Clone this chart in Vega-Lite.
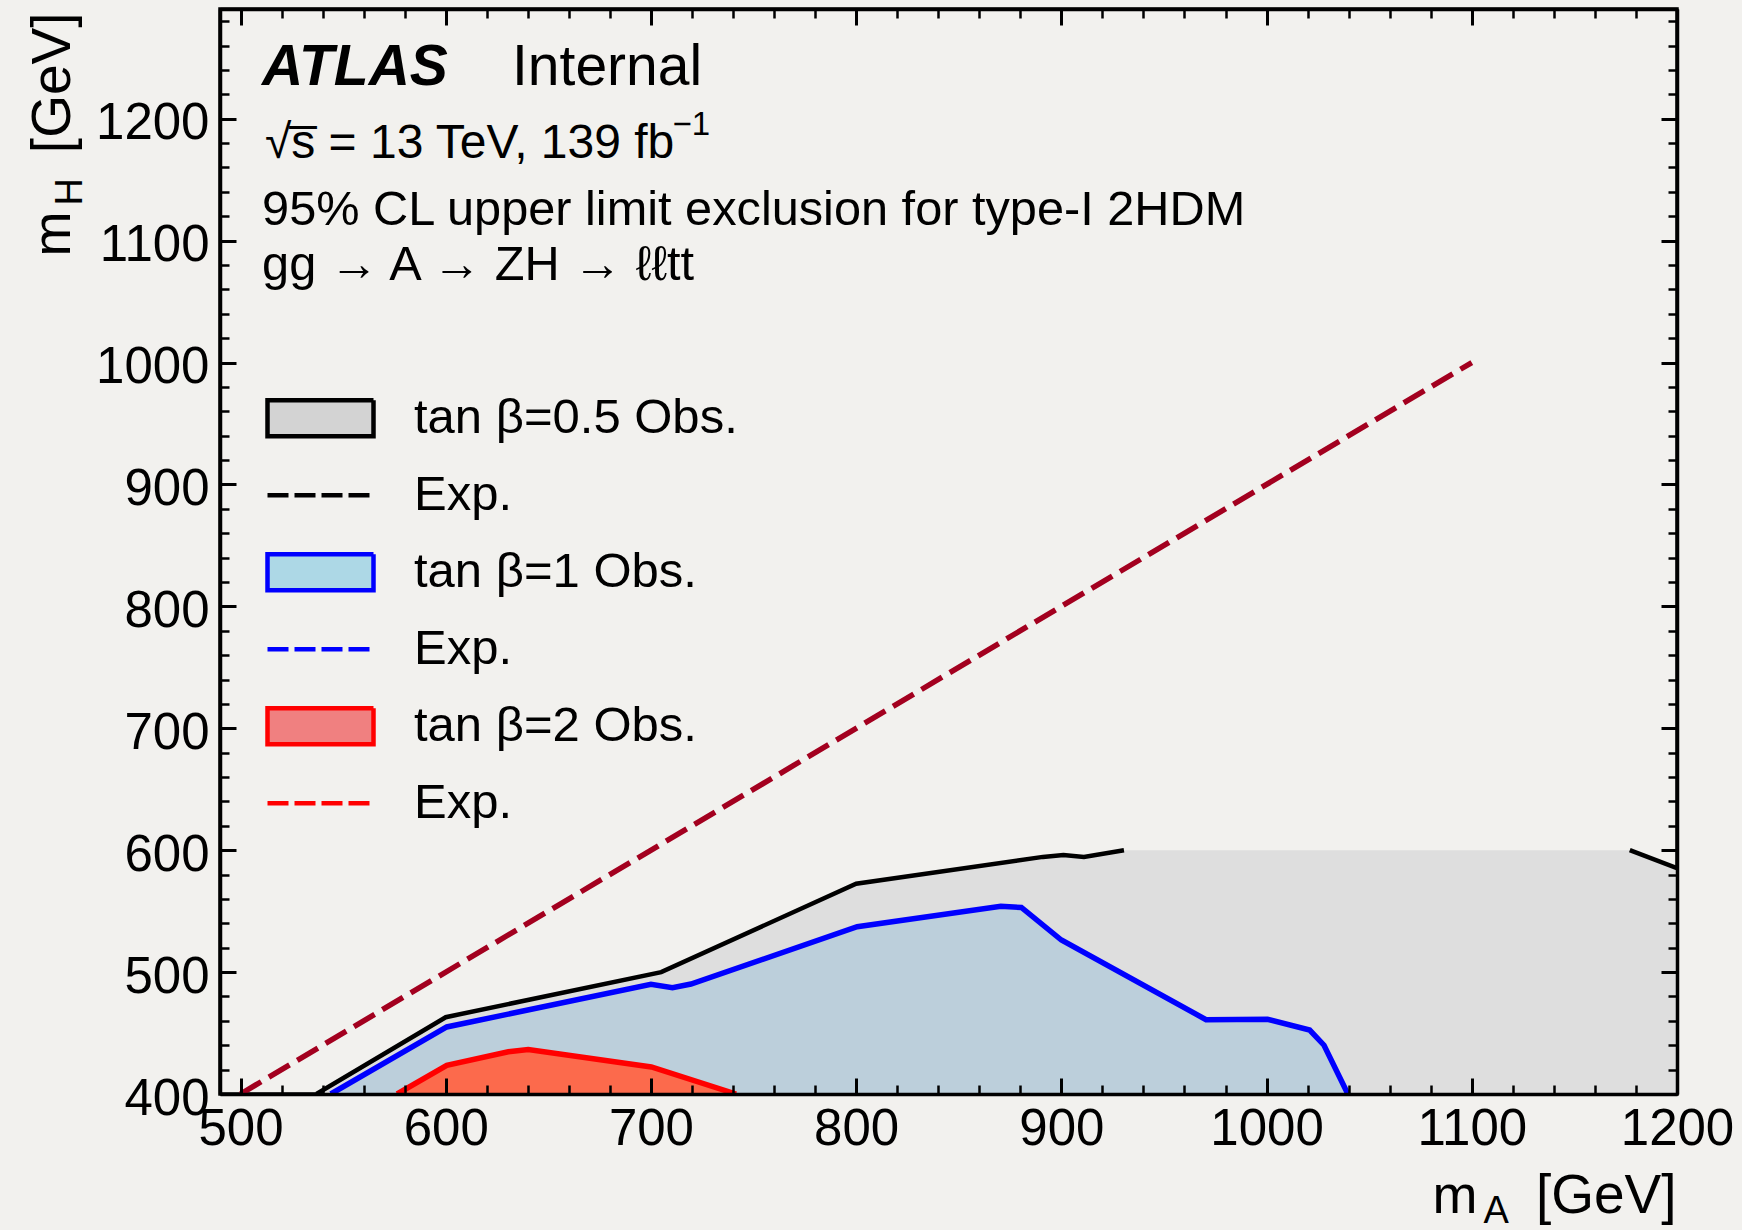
{
  "$schema": "https://vega.github.io/schema/vega-lite/v6.json",
  "width": 1457,
  "height": 1085,
  "autosize": {"type": "none"},
  "padding": {"left": 220, "top": 9, "right": 65, "bottom": 136},
  "background": "#f2f1ee",
  "config": {
    "view": {"fill": "white", "stroke": "black", "strokeWidth": 3.5},
    "axis": {
      "labelFont": "Liberation Sans",
      "titleFont": "Liberation Sans",
      "labelColor": "black",
      "titleColor": "black",
      "tickColor": "black",
      "domainColor": "black",
      "grid": false,
      "labelFlush": false,
      "labelOverlap": false,
      "labelBound": false,
      "titleFontWeight": "normal"
    }
  },
  "datasets": {
    "tb05": [
      {"mA": 537, "mH": 400, "seg": "a"},
      {"mA": 600, "mH": 463, "seg": "a"},
      {"mA": 705, "mH": 500, "seg": "a"},
      {"mA": 800, "mH": 572.5, "seg": "a"},
      {"mA": 891, "mH": 594.5, "seg": "a"},
      {"mA": 901, "mH": 596, "seg": "a"},
      {"mA": 911, "mH": 594.5, "seg": "a"},
      {"mA": 930.5, "mH": 600, "seg": "a"},
      {"mA": 1177, "mH": 600, "seg": "b"},
      {"mA": 1200, "mH": 585.2, "seg": "b"}
    ],
    "tb1": [
      {"mA": 544, "mH": 400},
      {"mA": 600.5, "mH": 455},
      {"mA": 700, "mH": 490},
      {"mA": 710.5, "mH": 487.2},
      {"mA": 719.5, "mH": 490.2},
      {"mA": 800.5, "mH": 537.2},
      {"mA": 870.5, "mH": 554},
      {"mA": 880.5, "mH": 553},
      {"mA": 900, "mH": 526.3},
      {"mA": 970.5, "mH": 461},
      {"mA": 1000.5, "mH": 461.3},
      {"mA": 1021, "mH": 452.5},
      {"mA": 1028, "mH": 440},
      {"mA": 1039.6, "mH": 400}
    ],
    "tb2": [
      {"mA": 576.3, "mH": 400},
      {"mA": 600.5, "mH": 423.5},
      {"mA": 630.5, "mH": 434.7},
      {"mA": 640.2, "mH": 436.4},
      {"mA": 700.2, "mH": 422.2},
      {"mA": 741.5, "mH": 400}
    ],
    "kin": [
      {"mA": 500, "mH": 400},
      {"mA": 1100, "mH": 1000}
    ],
    "legend": [
      {"series": "tanβ=0.5 Obs."},
      {"series": "tanβ=0.5 Exp."},
      {"series": "tanβ=1 Obs."},
      {"series": "tanβ=1 Exp."},
      {"series": "tanβ=2 Obs."},
      {"series": "tanβ=2 Exp."}
    ],
    "notes": [
      {"key": "atlas", "label": "ATLAS"},
      {"key": "internal", "label": "Internal"},
      {"key": "sqrts", "label": "√s̅ = 13 TeV, 139 fb"},
      {"key": "sup", "label": "−1"},
      {"key": "cl", "label": "95% CL upper limit exclusion for type-I 2HDM"},
      {"key": "proc", "label": "gg → A → ZH → ℓℓtt"}
    ]
  },
  "resolve": {"axis": {"x": "independent", "y": "independent"}},
  "layer": [
    {
      "data": {"name": "tb05"},
      "mark": {"type": "area", "color": "#dedede", "clip": true},
      "encoding": {
        "x": {"field": "mA", "type": "quantitative", "scale": {"domain": [490, 1200], "nice": false, "zero": false},
          "axis": {"orient": "bottom", "zindex": 1, "format": "d", "values": [500, 600, 700, 800, 900, 1000, 1100, 1200], "tickSize": -16, "tickWidth": 3, "labelPadding": 26, "labelFontSize": 51, "domain": true, "domainWidth": 3.5,
            "title": "m", "titleX": 1212, "titleY": 118, "titleAlign": "left", "titleBaseline": "alphabetic", "titleFontSize": 54}},
        "y": {"field": "mH", "type": "quantitative", "scale": {"domain": [400, 1290], "nice": false, "zero": false},
          "axis": {"orient": "left", "zindex": 1, "format": "d", "values": [400, 500, 600, 700, 800, 900, 1000, 1100, 1200], "tickSize": -16, "tickWidth": 3, "labelPadding": 27, "labelOffset": 5, "labelFontSize": 51, "domain": true, "domainWidth": 3.5,
            "title": "m", "titleX": -151, "titleY": 247, "titleAngle": 270, "titleAlign": "left", "titleBaseline": "alphabetic", "titleFontSize": 54}},
        "y2": {"datum": 400}
      }
    },
    {
      "data": {"name": "tb1"},
      "mark": {"type": "area", "color": "#bccfdb", "clip": true},
      "encoding": {
        "x": {"field": "mA", "type": "quantitative", "scale": {"domain": [490, 1200], "nice": false, "zero": false},
          "axis": {"orient": "bottom", "zindex": 1, "values": [520, 540, 560, 580, 620, 640, 660, 680, 720, 740, 760, 780, 820, 840, 860, 880, 920, 940, 960, 980, 1020, 1040, 1060, 1080, 1120, 1140, 1160, 1180], "tickSize": -9, "tickWidth": 2.5, "labels": false, "domain": false,
            "title": "A", "titleX": 1263, "titleY": 128, "titleAlign": "left", "titleBaseline": "alphabetic", "titleFontSize": 38}},
        "y": {"field": "mH", "type": "quantitative", "scale": {"domain": [400, 1290], "nice": false, "zero": false},
          "axis": {"orient": "left", "zindex": 1, "values": [420, 440, 460, 480, 520, 540, 560, 580, 620, 640, 660, 680, 720, 740, 760, 780, 820, 840, 860, 880, 920, 940, 960, 980, 1020, 1040, 1060, 1080, 1120, 1140, 1160, 1180, 1220, 1240, 1260, 1280], "tickSize": -9, "tickWidth": 2.5, "labels": false, "domain": false,
            "title": "H", "titleX": -139, "titleY": 196, "titleAngle": 270, "titleAlign": "left", "titleBaseline": "alphabetic", "titleFontSize": 38}},
        "y2": {"datum": 400}
      }
    },
    {
      "data": {"name": "tb2"},
      "mark": {"type": "area", "color": "#fc6a4c", "clip": true},
      "encoding": {
        "x": {"field": "mA", "type": "quantitative", "scale": {"domain": [490, 1200], "nice": false, "zero": false},
          "axis": {"orient": "top", "zindex": 1, "values": [500, 600, 700, 800, 900, 1000, 1100, 1200], "tickSize": -16, "tickWidth": 3, "labels": false, "domain": true, "domainWidth": 3.5,
            "title": "[GeV]", "titleX": 1456, "titleY": 1203, "titleAlign": "right", "titleBaseline": "alphabetic", "titleFontSize": 55}},
        "y": {"field": "mH", "type": "quantitative", "scale": {"domain": [400, 1290], "nice": false, "zero": false},
          "axis": {"orient": "right", "zindex": 1, "values": [400, 500, 600, 700, 800, 900, 1000, 1100, 1200], "tickSize": -16, "tickWidth": 3, "labels": false, "domain": true, "domainWidth": 3.5,
            "title": "[GeV]", "titleX": -1608, "titleY": 3, "titleAngle": 270, "titleAlign": "right", "titleBaseline": "alphabetic", "titleFontSize": 55}},
        "y2": {"datum": 400}
      }
    },
    {
      "data": {"name": "tb05"},
      "mark": {"type": "line", "color": "black", "strokeWidth": 4.5, "clip": true},
      "encoding": {
        "x": {"field": "mA", "type": "quantitative", "scale": {"domain": [490, 1200], "nice": false, "zero": false},
          "axis": {"orient": "top", "zindex": 1, "values": [520, 540, 560, 580, 620, 640, 660, 680, 720, 740, 760, 780, 820, 840, 860, 880, 920, 940, 960, 980, 1020, 1040, 1060, 1080, 1120, 1140, 1160, 1180], "tickSize": -9, "tickWidth": 2.5, "labels": false, "domain": false, "title": null}},
        "y": {"field": "mH", "type": "quantitative", "scale": {"domain": [400, 1290], "nice": false, "zero": false},
          "axis": {"orient": "right", "zindex": 1, "values": [420, 440, 460, 480, 520, 540, 560, 580, 620, 640, 660, 680, 720, 740, 760, 780, 820, 840, 860, 880, 920, 940, 960, 980, 1020, 1040, 1060, 1080, 1120, 1140, 1160, 1180, 1220, 1240, 1260, 1280], "tickSize": -9, "tickWidth": 2.5, "labels": false, "domain": false, "title": null}},
        "detail": {"field": "seg"}
      }
    },
    {
      "data": {"name": "tb1"},
      "mark": {"type": "line", "color": "#0000ff", "strokeWidth": 5.5, "clip": true},
      "encoding": {
        "x": {"field": "mA", "type": "quantitative", "axis": null},
        "y": {"field": "mH", "type": "quantitative", "axis": null}
      }
    },
    {
      "data": {"name": "tb2"},
      "mark": {"type": "line", "color": "#ff0000", "strokeWidth": 5.5, "clip": true},
      "encoding": {
        "x": {"field": "mA", "type": "quantitative", "axis": null},
        "y": {"field": "mH", "type": "quantitative", "axis": null}
      }
    },
    {
      "data": {"name": "kin"},
      "mark": {"type": "line", "color": "#a3001f", "strokeWidth": 5.5, "strokeDash": [24, 9], "clip": true},
      "encoding": {
        "x": {"field": "mA", "type": "quantitative", "axis": null},
        "y": {"field": "mH", "type": "quantitative", "axis": null}
      }
    },
    {
      "data": {"name": "legend"},
      "transform": [{"filter": "false"}],
      "mark": {"type": "point", "filled": true, "opacity": 1, "strokeWidth": 4.5},
      "encoding": {
        "fill": {"field": "series", "type": "nominal",
          "scale": {"domain": ["tanβ=0.5 Obs.", "tanβ=0.5 Exp.", "tanβ=1 Obs.", "tanβ=1 Exp.", "tanβ=2 Obs.", "tanβ=2 Exp."], "range": ["#d3d3d3", "transparent", "#add8e6", "transparent", "#f08080", "transparent"]},
          "legend": {"title": null, "orient": "none", "legendX": 45, "legendY": 371, "direction": "vertical", "symbolSize": 11236, "symbolStrokeWidth": 4.5, "symbolOpacity": 1, "labelFont": "Liberation Sans", "labelFontSize": 49, "labelColor": "black", "labelOffset": 38, "labelLimit": 800, "clipHeight": 76.4, "rowPadding": 0, "padding": 0, "labelExpr": "indexof(datum.label, 'Exp.') >= 0 ? 'Exp.' : replace(datum.label, 'tanβ', 'tan β')"}},
        "stroke": {"field": "series", "type": "nominal",
          "scale": {"domain": ["tanβ=0.5 Obs.", "tanβ=0.5 Exp.", "tanβ=1 Obs.", "tanβ=1 Exp.", "tanβ=2 Obs.", "tanβ=2 Exp."], "range": ["black", "black", "#0000ff", "#0000ff", "#ff0000", "#ff0000"]},
          "legend": {"title": null, "orient": "none", "legendX": 45, "legendY": 371, "direction": "vertical", "symbolSize": 11236, "symbolStrokeWidth": 4.5, "symbolOpacity": 1, "labelFont": "Liberation Sans", "labelFontSize": 49, "labelColor": "black", "labelOffset": 38, "labelLimit": 800, "clipHeight": 76.4, "rowPadding": 0, "padding": 0, "labelExpr": "indexof(datum.label, 'Exp.') >= 0 ? 'Exp.' : replace(datum.label, 'tanβ', 'tan β')"}},
        "shape": {"field": "series", "type": "nominal",
          "scale": {"domain": ["tanβ=0.5 Obs.", "tanβ=0.5 Exp.", "tanβ=1 Obs.", "tanβ=1 Exp.", "tanβ=2 Obs.", "tanβ=2 Exp."], "range": ["M-1,-0.34L1,-0.34L1,0.34L-1,0.34Z", "M-1,0L1,0", "M-1,-0.34L1,-0.34L1,0.34L-1,0.34Z", "M-1,0L1,0", "M-1,-0.34L1,-0.34L1,0.34L-1,0.34Z", "M-1,0L1,0"]},
          "legend": {"title": null, "orient": "none", "legendX": 45, "legendY": 371, "direction": "vertical", "symbolSize": 11236, "symbolStrokeWidth": 4.5, "symbolOpacity": 1, "labelFont": "Liberation Sans", "labelFontSize": 49, "labelColor": "black", "labelOffset": 38, "labelLimit": 800, "clipHeight": 76.4, "rowPadding": 0, "padding": 0, "labelExpr": "indexof(datum.label, 'Exp.') >= 0 ? 'Exp.' : replace(datum.label, 'tanβ', 'tan β')"}},
        "strokeDash": {"field": "series", "type": "nominal",
          "scale": {"domain": ["tanβ=0.5 Obs.", "tanβ=0.5 Exp.", "tanβ=1 Obs.", "tanβ=1 Exp.", "tanβ=2 Obs.", "tanβ=2 Exp."], "range": [[1, 0], [21, 6], [1, 0], [21, 6], [1, 0], [21, 6]]},
          "legend": {"title": null, "orient": "none", "legendX": 45, "legendY": 371, "direction": "vertical", "symbolSize": 11236, "symbolStrokeWidth": 4.5, "symbolOpacity": 1, "labelFont": "Liberation Sans", "labelFontSize": 49, "labelColor": "black", "labelOffset": 38, "labelLimit": 800, "clipHeight": 76.4, "rowPadding": 0, "padding": 0, "labelExpr": "indexof(datum.label, 'Exp.') >= 0 ? 'Exp.' : replace(datum.label, 'tanβ', 'tan β')"}}
      }
    },
    {
      "data": {"name": "notes"},
      "transform": [{"filter": "datum.key == 'atlas'"}],
      "mark": {"type": "text", "font": "Liberation Sans", "fontSize": 57, "fontWeight": "bold", "fontStyle": "italic", "align": "left", "baseline": "alphabetic", "color": "black"},
      "encoding": {
        "x": {"datum": 510.5, "type": "quantitative", "axis": null},
        "y": {"datum": 1227.6, "type": "quantitative", "axis": null},
        "text": {"field": "label"}
      }
    },
    {
      "data": {"name": "notes"},
      "transform": [{"filter": "datum.key == 'internal'"}],
      "mark": {"type": "text", "font": "Liberation Sans", "fontSize": 57, "align": "left", "baseline": "alphabetic", "color": "black"},
      "encoding": {
        "x": {"datum": 632.3, "type": "quantitative", "axis": null},
        "y": {"datum": 1227.6, "type": "quantitative", "axis": null},
        "text": {"field": "label"}
      }
    },
    {
      "data": {"name": "notes"},
      "transform": [{"filter": "datum.key == 'sqrts'"}],
      "mark": {"type": "text", "font": "Liberation Sans", "fontSize": 48, "align": "left", "baseline": "alphabetic", "color": "black"},
      "encoding": {
        "x": {"datum": 511.9, "type": "quantitative", "axis": null},
        "y": {"datum": 1167.8, "type": "quantitative", "axis": null},
        "text": {"field": "label"}
      }
    },
    {
      "data": {"name": "notes"},
      "transform": [{"filter": "datum.key == 'sup'"}],
      "mark": {"type": "text", "font": "Liberation Sans", "fontSize": 33, "align": "left", "baseline": "alphabetic", "color": "black"},
      "encoding": {
        "x": {"datum": 710.5, "type": "quantitative", "axis": null},
        "y": {"datum": 1186.6, "type": "quantitative", "axis": null},
        "text": {"field": "label"}
      }
    },
    {
      "data": {"name": "notes"},
      "transform": [{"filter": "datum.key == 'cl'"}],
      "mark": {"type": "text", "font": "Liberation Sans", "fontSize": 48.7, "align": "left", "baseline": "alphabetic", "color": "black"},
      "encoding": {
        "x": {"datum": 510.5, "type": "quantitative", "axis": null},
        "y": {"datum": 1112.8, "type": "quantitative", "axis": null},
        "text": {"field": "label"}
      }
    },
    {
      "data": {"name": "notes"},
      "transform": [{"filter": "datum.key == 'proc'"}],
      "mark": {"type": "text", "font": "Liberation Sans", "fontSize": 48.7, "align": "left", "baseline": "alphabetic", "color": "black"},
      "encoding": {
        "x": {"datum": 510.5, "type": "quantitative", "axis": null},
        "y": {"datum": 1067.7, "type": "quantitative", "axis": null},
        "text": {"field": "label"}
      }
    }
  ]
}
